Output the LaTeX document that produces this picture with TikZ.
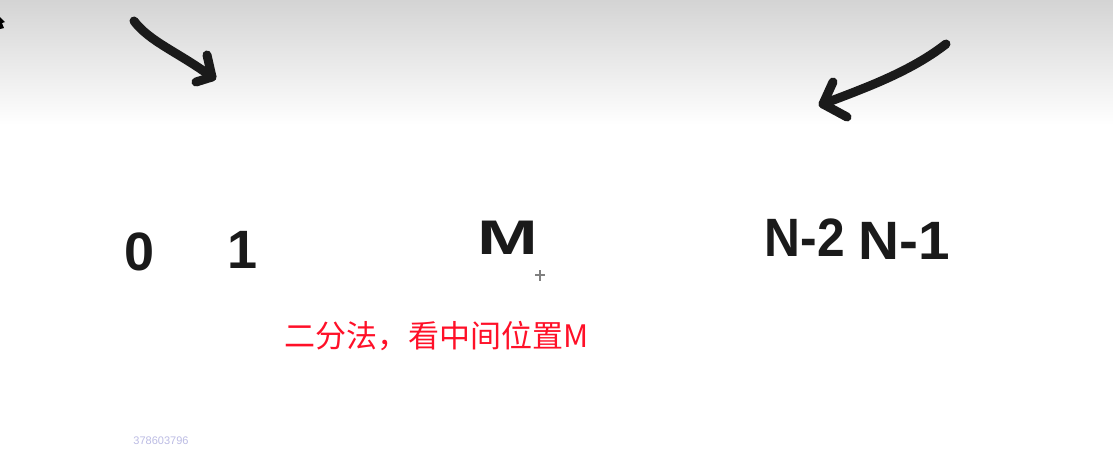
\documentclass[tikz,border=0pt]{standalone}
\usepackage{fontspec}
\newfontfamily\cjk{Noto Sans CJK SC}
\newfontfamily\hand{Liberation Sans}
\definecolor{ink}{HTML}{1A1A1A}
\definecolor{redtxt}{HTML}{FF1028}
\definecolor{gtop}{HTML}{D4D4D4}
\definecolor{faint}{HTML}{BCBCE4}
\tikzset{
  stroke/.style={draw=ink, line width=9pt, line cap=round, line join=round},
  handtxt/.style={text=ink, inner sep=0pt, font=\hand\bfseries\fontsize{54}{54}\selectfont},
}
\begin{document}
\begin{tikzpicture}[x=1pt,y=-1pt]
\useasboundingbox (0,0) rectangle (1113,466);
\fill[white] (0,0) rectangle (1113,466);
\shade[top color=gtop, bottom color=white] (0,0) rectangle (1113,125);

% left arrow
\coordinate (la1) at (134,21);
\coordinate (la2) at (212,77);
\coordinate (lh1) at (207,55);
\coordinate (lh2) at (196,82);
\draw[stroke] (la1) .. controls (150,42) and (178,52) .. (la2);
\draw[stroke] (lh1) -- (la2) -- (lh2);

% right arrow
\coordinate (ra1) at (946,44);
\coordinate (ra2) at (823,104);
\coordinate (rh1) at (833,82);
\coordinate (rh2) at (847,117);
\draw[stroke] (ra1) .. controls (910,72) and (865,88) .. (ra2);
\draw[stroke] (rh1) -- (ra2) -- (rh2);

% labels
\node[handtxt] (n0) at (140,252) {0};
\node[handtxt] (n1) at (243,250) {1};
\node[handtxt, xscale=1.35, yscale=0.9] (nM) at (508,238) {M};
\node[handtxt, xscale=0.92] (nN2) at (805,238) {N-2};
\node[handtxt, xscale=1.05] (nN1) at (904,241) {N-1};

\node[text=redtxt, inner sep=0pt, font=\cjk\fontsize{31}{31}\selectfont] (cap) at (437,336) {二分法，看中间位置M};

\node[text=faint, inner sep=0pt, font=\hand\fontsize{11}{11}\selectfont] (id) at (161,441) {378603796};

% cursor near M
\draw[gray, line width=1.5pt] (535,275) -- (545,275) (540,270) -- (540,281);
% cursor at top-left
\fill[black] (0,17) -- (5,22) -- (2,23) -- (4,28) -- (0,29) -- cycle;
\end{tikzpicture}
\end{document}
